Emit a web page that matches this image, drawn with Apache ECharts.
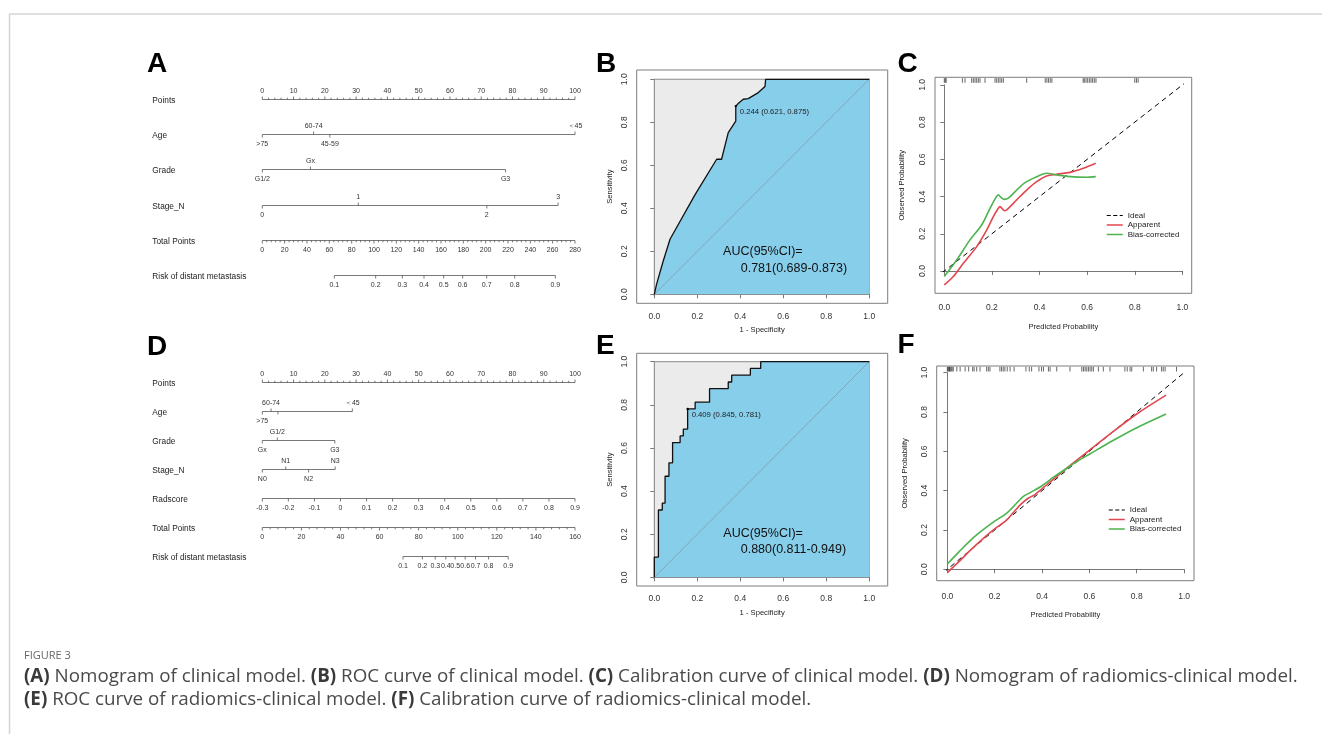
<!DOCTYPE html>
<html><head><meta charset="utf-8">
<script src="https://cdn.jsdelivr.net/npm/echarts@6.0.0/dist/echarts.min.js"></script>
<style>html,body{margin:0;padding:0;background:#fff}#chart{width:1322px;height:734px}</style>
</head><body><div id="chart"></div>
<script>
// ================= DATA =================
// Nomogram A (clinical model)
const pointsTicks = [0,10,20,30,40,50,60,70,80,90,100];
const pointsMinorStep = 2;
const nomA_ageLevels = ['>75','60-74','45-59','＜45'];
const nomA_agePoints = [0,16.4,21.6,100];
const nomA_gradeLevels = ['G1/2','Gx','G3'];
const nomA_gradePoints = [0,15.4,77.8];
const nomA_stageLevels = ['0','1','2','3'];
const nomA_stagePoints = [0,30.7,71.8,94.6];
const nomA_totalTicks = [0,20,40,60,80,100,120,140,160,180,200,220,240,260,280];
const nomA_totalMinorStep = 4;
const nomA_riskLabels = ['0.1','0.2','0.3','0.4','0.5','0.6','0.7','0.8','0.9'];
const nomA_riskTotal = [64.5,101.5,125.4,144.8,162.4,179.4,200.9,226.0,262.4];

// Nomogram D (radiomics-clinical model)
const nomD_ageLevels = ['>75','60-74','45-59','＜45'];
const nomD_agePoints = [0,2.8,5.0,28.8];
const nomD_gradeLevels = ['Gx','G1/2','G3'];
const nomD_gradePoints = [0,4.8,23.2];
const nomD_stageLevels = ['N0','N1','N2','N3'];
const nomD_stagePoints = [0,7.5,14.8,23.3];
const nomD_radTicks = [-0.3,-0.2,-0.1,0,0.1,0.2,0.3,0.4,0.5,0.6,0.7,0.8,0.9];
const nomD_totalTicks = [0,20,40,60,80,100,120,140,160];
const nomD_totalMinorStep = 4;
const nomD_riskLabels = ['0.1','0.2','0.3','0.4','0.5','0.6','0.7','0.8','0.9'];
const nomD_riskTotal = [72.0,81.9,88.5,93.9,98.7,103.8,109.1,115.8,125.8];

// ROC B
const rocB_fpr = [0,0.01,0.04,0.073,0.189,0.29,0.313,0.344,0.379,0.379,0.394,0.414,0.437,0.484,0.515,0.518,0.518,1];
const rocB_tpr = [0,0.045,0.15,0.256,0.462,0.628,0.628,0.752,0.805,0.875,0.891,0.907,0.91,0.938,0.966,0.966,1,1];
const rocB_cut = [0.379,0.875];
const rocB_cutLabel = '0.244 (0.621, 0.875)';
const rocB_auc = ['AUC(95%CI)=','0.781(0.689-0.873)'];

// ROC E
const rocE_fpr = [0,0,0.019,0.019,0.037,0.037,0.05,0.05,0.068,0.068,0.085,0.085,0.12,0.12,0.135,0.135,0.155,0.155,0.19,0.19,0.257,0.257,0.344,0.344,0.36,0.36,0.447,0.447,0.495,0.495,1];
const rocE_tpr = [0,0.094,0.094,0.3125,0.3125,0.344,0.344,0.469,0.469,0.531,0.531,0.625,0.625,0.656,0.656,0.6875,0.6875,0.781,0.781,0.8125,0.8125,0.875,0.875,0.906,0.906,0.9375,0.9375,0.969,0.969,1,1];
const rocE_cut = [0.155,0.781];
const rocE_cutLabel = '0.409 (0.845, 0.781)';
const rocE_auc = ['AUC(95%CI)=','0.880(0.811-0.949)'];

// Calibration C
const calC_appX = [0,0.038,0.08,0.136,0.178,0.206,0.227,0.234,0.252,0.262,0.304,0.346,0.388,0.43,0.472,0.528,0.584,0.636];
const calC_appY = [-0.075,-0.03,0.041,0.131,0.22,0.292,0.337,0.346,0.324,0.328,0.382,0.435,0.48,0.511,0.52,0.53,0.552,0.579];
const calC_biasX = [0,0.052,0.108,0.157,0.192,0.217,0.227,0.238,0.252,0.269,0.304,0.339,0.388,0.43,0.472,0.528,0.598,0.636];
const calC_biasY = [-0.03,0.059,0.167,0.247,0.337,0.396,0.409,0.396,0.385,0.391,0.435,0.475,0.507,0.525,0.516,0.507,0.504,0.507];
const calC_rug = [0,0.004,0.008,0.076,0.087,0.115,0.122,0.129,0.136,0.143,0.15,0.171,0.213,0.22,0.227,0.234,0.241,0.248,0.346,0.424,0.431,0.438,0.445,0.452,0.583,0.588,0.595,0.602,0.609,0.616,0.623,0.63,0.637,0.8,0.807,0.814];

// Calibration F
const calF_appX = [0,0.05,0.1,0.15,0.2,0.25,0.28,0.31,0.34,0.37,0.42,0.5,0.6,0.7,0.8,0.924];
const calF_appY = [-0.017,0.04,0.1,0.155,0.205,0.25,0.29,0.33,0.36,0.38,0.43,0.51,0.605,0.7,0.79,0.886];
const calF_biasX = [0,0.05,0.1,0.15,0.2,0.25,0.28,0.32,0.35,0.4,0.45,0.5,0.55,0.6,0.7,0.8,0.924];
const calF_biasY = [0.027,0.09,0.15,0.2,0.245,0.285,0.32,0.37,0.39,0.425,0.47,0.51,0.55,0.585,0.655,0.72,0.79];
const calF_rug = [0,0.003,0.006,0.009,0.012,0.016,0.02,0.025,0.04,0.054,0.075,0.09,0.107,0.113,0.124,0.138,0.166,0.173,0.18,0.222,0.229,0.236,0.243,0.253,0.265,0.282,0.332,0.346,0.356,0.387,0.398,0.406,0.427,0.434,0.462,0.518,0.568,0.575,0.582,0.589,0.596,0.603,0.61,0.617,0.638,0.659,0.687,0.75,0.76,0.772,0.779,0.828,0.863,0.87,0.884,0.905,0.912,0.92,0.968];

const legendNames = ['Ideal','Apparent','Bias-corrected'];
const panelLetters = ['A','B','C','D','E','F'];
const captionTitle = 'FIGURE 3';
const captionLine1 = '{b|(A)} Nomogram of clinical model. {b|(B)} ROC curve of clinical model. {b|(C)} Calibration curve of clinical model. {b|(D)} Nomogram of radiomics-clinical model.';
const captionLine2 = '{b|(E)} ROC curve of radiomics-clinical model. {b|(F)} Calibration curve of radiomics-clinical model.';

// ================= STYLE / LAYOUT =================
const FONT = '"Liberation Sans", Arial, sans-serif';
const CAPFONT = '"Open Sans", sans-serif';
const TICKFONT = '7px ' + FONT;
const ROWFONT = '8.3px ' + FONT;
const LINE = '#555';
const RED = '#E2474F', GREEN = '#4CB34E';
const PX_PER_PT = 312.7 / 100;

const mctx = document.createElement('canvas').getContext('2d');
function textW(t, font){ mctx.font = font; return mctx.measureText(t).width; }

function axisRow(name, values, labels, toPts, side, minorStep) {
  const marks = values.map((v,i)=>({p:toPts(v), label:labels[i], side, major:true}));
  if (minorStep) {
    const last = values[values.length-1];
    for (let k=1; values[0]+k*minorStep < last - 1e-9; k++) {
      const v = values[0]+k*minorStep;
      if (!values.some(u=>Math.abs(u-v)<1e-9)) marks.push({p:toPts(v), label:'', side, major:false});
    }
  }
  return {name, line:[toPts(values[0]), toPts(values[values.length-1])], marks};
}
function catRow(name, levels, pts) {
  const order = levels.map((l,i)=>i).sort((a,b)=>pts[a]-pts[b]);
  const lastRight = {above:-Infinity, below:-Infinity};
  const marks = order.map((idx,k)=>{
    const side = k%2===0 ? 'below' : 'above';
    const p = pts[idx];
    const half = textW(levels[idx], TICKFONT)/2/PX_PER_PT;
    let label = levels[idx];
    if (p - half < lastRight[side] + 2/PX_PER_PT) label = ''; else lastRight[side] = p + half;
    return {p, label, side, major:true};
  });
  return {name, line:[pts[order[0]], pts[order[order.length-1]]], marks};
}

const totA = nomA_totalTicks[nomA_totalTicks.length-1];
const rowsA = [
  axisRow('Points', pointsTicks, pointsTicks.map(String), v=>v, 'above', pointsMinorStep),
  catRow('Age', nomA_ageLevels, nomA_agePoints),
  catRow('Grade', nomA_gradeLevels, nomA_gradePoints),
  catRow('Stage_N', nomA_stageLevels, nomA_stagePoints),
  axisRow('Total Points', nomA_totalTicks, nomA_totalTicks.map(String), v=>v*100/totA, 'below', nomA_totalMinorStep),
  axisRow('Risk of distant metastasis', nomA_riskTotal, nomA_riskLabels, v=>v*100/totA, 'below', 0)
];
const totD = nomD_totalTicks[nomD_totalTicks.length-1];
const r0 = nomD_radTicks[0], r1 = nomD_radTicks[nomD_radTicks.length-1];
const rowsD = [
  axisRow('Points', pointsTicks, pointsTicks.map(String), v=>v, 'above', pointsMinorStep),
  catRow('Age', nomD_ageLevels, nomD_agePoints),
  catRow('Grade', nomD_gradeLevels, nomD_gradePoints),
  catRow('Stage_N', nomD_stageLevels, nomD_stagePoints),
  axisRow('Radscore', nomD_radTicks, nomD_radTicks.map(String), v=>(v-r0)/(r1-r0)*100, 'below', 0),
  axisRow('Total Points', nomD_totalTicks, nomD_totalTicks.map(String), v=>v*100/totD, 'below', nomD_totalMinorStep),
  axisRow('Risk of distant metastasis', nomD_riskTotal, nomD_riskLabels, v=>v*100/totD, 'below', 0)
];

const grids=[], xAxes=[], yAxes=[], series=[];
function addGrid(g, xa, ya){ g.outerBoundsMode='none'; grids.push(g); const gi=grids.length-1; xa.gridIndex=gi; ya.gridIndex=gi; xAxes.push(xa); yAxes.push(ya); return gi; }
const hiddenAxis = (min,max,inv)=>({type:'value', min, max, inverse:!!inv, show:false});

function nomogram(rows, top, height){
  const ai = addGrid({left:262.3, top, width:312.7, height, show:false}, hiddenAxis(0,100), hiddenAxis(0,rows.length-1,true));
  series.push({
    type:'custom', xAxisIndex:ai, yAxisIndex:ai, silent:true, clip:false, animation:false,
    data: rows.map((r,i)=>[0,i]), encode:{x:0,y:1},
    renderItem:(params, api)=>{
      const i = api.value(1), row = rows[i];
      const y = Math.round(api.coord([0,i])[1]) + 0.5;
      const ch = [];
      const xa = api.coord([row.line[0],i])[0], xb = api.coord([row.line[1],i])[0];
      ch.push({type:'line', shape:{x1:xa,y1:y,x2:xb,y2:y}, style:{stroke:LINE, lineWidth:0.8}});
      row.marks.forEach(m=>{
        const x = api.coord([m.p,i])[0];
        const dir = m.side==='above' ? -1 : 1;
        const len = m.major ? 3 : 1.8;
        ch.push({type:'line', shape:{x1:x,y1:y,x2:x,y2:y+dir*len}, style:{stroke:LINE, lineWidth:0.8}});
        if (m.label) ch.push({type:'text', style:{text:m.label, x, y:y+(dir<0?-8:9.5), align:'center', verticalAlign:'middle', font:TICKFONT, fill:'#333'}});
      });
      ch.push({type:'text', style:{text:row.name, x:params.coordSys.x-110, y:y+1, align:'left', verticalAlign:'middle', font:ROWFONT, fill:'#222'}});
      return {type:'group', children:ch};
    }
  });
}
nomogram(rowsA, 99, 176);
nomogram(rowsD, 381.7, 174);

// R-style panel: frame grid (axis titles) + inner 0..1 grid (axis lines, ticks, labels)
function panel(f, xr, yr, xName, yName, xGap, yGap, xMargin, yMargin){
  const fw = f.r-f.l, fh = f.b-f.t;
  addGrid({left:f.l, top:f.t, width:fw, height:fh, show:true, borderColor:'#7d7d7d', borderWidth:1, backgroundColor:'rgba(0,0,0,0)'},
    {type:'value', min:xr[0], max:xr[1], axisLine:{show:false}, axisTick:{show:false}, axisLabel:{show:false}, splitLine:{show:false},
     name:xName, nameLocation:'middle', nameGap:xGap, nameTextStyle:{fontFamily:FONT, fontSize:7.6, color:'#222'}},
    {type:'value', min:yr[0], max:yr[1], axisLine:{show:false}, axisTick:{show:false}, axisLabel:{show:false}, splitLine:{show:false},
     name:yName, nameLocation:'middle', nameGap:yGap, nameRotate:90, nameTextStyle:{fontFamily:FONT, fontSize:7.6, color:'#222'}});
  const x0 = f.l + (0-xr[0])/(xr[1]-xr[0])*fw, x1 = f.l + (1-xr[0])/(xr[1]-xr[0])*fw;
  const y1 = f.t + (yr[1]-1)/(yr[1]-yr[0])*fh, y0 = f.t + (yr[1]-0)/(yr[1]-yr[0])*fh;
  const axStyle = {lineStyle:{color:'#555', width:0.8}};
  const lab = (m, rot)=>({show:true, margin:m, rotate:rot, fontFamily:FONT, fontSize:8.5, color:'#333', formatter:v=>v.toFixed(1), showMinLabel:true, showMaxLabel:true, hideOverlap:false});
  return addGrid({left:x0, top:y1, width:x1-x0, height:y0-y1, show:false},
    {type:'value', min:0, max:1, interval:0.2, position:'bottom', offset:f.b-y0, axisLine:{show:true, ...axStyle}, axisTick:{show:true, length:4, ...axStyle}, axisLabel:lab(xMargin,0), splitLine:{show:false}},
    {type:'value', min:0, max:1, interval:0.2, position:'left', offset:x0-f.l, axisLine:{show:true, ...axStyle}, axisTick:{show:true, length:4, ...axStyle}, axisLabel:lab(yMargin,90), splitLine:{show:false}});
}

function rocPanel(f, xr, yr, fpr, tpr, cut, cutLabel, auc, aucPos){
  const ai = panel(f, xr, yr, '1 - Specificity', 'Sensitivity', 23, 23, 8.5, 7.5);
  const zip = fpr.map((x,i)=>[x,tpr[i]]);
  const base = {xAxisIndex:ai, yAxisIndex:ai, silent:true, animation:false};
  series.push({...base, type:'line', data:[], z:1, markArea:{silent:true, itemStyle:{color:'#EBEBEB', borderWidth:0}, data:[[{coord:[0,0]},{coord:[1,1]}]]}});
  series.push({...base, type:'line', name:'roc-area', data:zip, symbol:'none', z:2, lineStyle:{width:0}, areaStyle:{color:'#87CEEB', opacity:1}});
  const lo = Math.max(xr[0],yr[0]), hi = Math.min(xr[1],yr[1]);
  series.push({...base, type:'line', data:[[lo,lo],[hi,hi]], symbol:'none', z:3, clip:false, lineStyle:{color:'#8494a4', width:0.7}});
  series.push({...base, type:'line', data:[], z:4, markArea:{silent:true, itemStyle:{color:'rgba(0,0,0,0)', borderColor:'#8a8a8a', borderWidth:1}, data:[[{coord:[0,0]},{coord:[1,1]}]]}});
  series.push({...base, type:'line', name:'roc', data:zip, symbol:'none', z:5, lineStyle:{color:'#111', width:1.3}});
  series.push({...base, type:'custom', z:6, clip:false, data:[cut], renderItem:(p,api)=>{
    const c = api.coord([api.value(0),api.value(1)]);
    return {type:'group', children:[
      {type:'circle', shape:{cx:c[0], cy:c[1], r:1.2}, style:{fill:'#000'}},
      {type:'text', style:{text:cutLabel, x:c[0]+4, y:c[1]+6, align:'left', verticalAlign:'middle', font:'7.7px '+FONT, fill:'#222'}}]};
  }});
  series.push({...base, type:'custom', z:6, clip:false, data:aucPos, renderItem:(p,api)=>{
    const c = api.coord([api.value(0),api.value(1)]);
    return {type:'text', style:{text:auc[p.dataIndex], x:c[0], y:c[1], align:'left', verticalAlign:'middle', font:'12.5px '+FONT, fill:'#111'}};
  }});
}
rocPanel({l:636.7,t:70,r:887.7,b:303.3}, [-0.082,1.086], [-0.042,1.043], rocB_fpr, rocB_tpr, rocB_cut, rocB_cutLabel, rocB_auc, [[0.32,0.197],[0.402,0.119]]);
rocPanel({l:636.7,t:353.3,r:887.7,b:586}, [-0.082,1.086], [-0.040,1.039], rocE_fpr, rocE_tpr, rocE_cut, rocE_cutLabel, rocE_auc, [[0.321,0.204],[0.402,0.127]]);

function calPanel(f, xr, yr, appX, appY, biasX, biasY, rug, xGap, yGap, xMargin){
  const ai = panel(f, xr, yr, 'Predicted Probability', 'Observed Probability', xGap, yGap, xMargin, 8);
  const base = {xAxisIndex:ai, yAxisIndex:ai, silent:true, animation:false, clip:false, symbol:'none', showSymbol:false};
  const lo = Math.max(xr[0],yr[0]), hi = Math.min(xr[1],yr[1]);
  series.push({...base, type:'line', name:'Ideal', data:[[lo,lo],[hi,hi]], z:3, itemStyle:{color:'#000'}, lineStyle:{color:'#000', width:1, type:[5,4]}});
  series.push({...base, type:'line', name:'Apparent', data:appX.map((x,i)=>[x,appY[i]]), smooth:0.3, z:4, itemStyle:{color:RED}, lineStyle:{color:RED, width:1.6}});
  series.push({...base, type:'line', name:'Bias-corrected', data:biasX.map((x,i)=>[x,biasY[i]]), smooth:0.3, z:5, itemStyle:{color:GREEN}, lineStyle:{color:GREEN, width:1.6}});
  series.push({xAxisIndex:ai, yAxisIndex:ai, type:'custom', silent:true, animation:false, clip:false, z:6, data:rug.map(v=>[v]), encode:{x:0},
    renderItem:(p,api)=>{
      const x = api.coord([api.value(0), 0])[0];
      return {type:'line', shape:{x1:x, y1:f.t+0.8, x2:x, y2:f.t+5.5}, style:{stroke:'rgba(0,0,0,0.75)', lineWidth:0.8}};
    }});
}
calPanel({l:935,t:77.3,r:1191.7,b:293.3}, [-0.039,1.039], [-0.12,1.041], calC_appX, calC_appY, calC_biasX, calC_biasY, calC_rug, 29.5, 29, 10);
calPanel({l:936.7,t:366,r:1194,b:580.7}, [-0.045,1.042], [-0.058,1.034], calF_appX, calF_appY, calF_biasX, calF_biasY, calF_rug, 30, 27.5, 11);

const legendData = [
  {name:legendNames[0], itemStyle:{opacity:0}, lineStyle:{color:'#000', width:1.2, type:[4,2.5]}},
  {name:legendNames[1], itemStyle:{opacity:0}, lineStyle:{color:RED, width:1.5}},
  {name:legendNames[2], itemStyle:{opacity:0}, lineStyle:{color:GREEN, width:1.5}}
];
const legendBase = {data:legendData, orient:'vertical', itemWidth:16, itemHeight:7, itemGap:1.5, padding:0, selectedMode:false,
  itemStyle:{opacity:0}, textStyle:{fontFamily:FONT, fontSize:8, color:'#222'}};

const letterPos = [[147,64.5],[596,64.5],[897.5,64.5],[147,347],[596,346],[897.5,345.5]];
const graphics = [
  {type:'line', shape:{x1:9, y1:14, x2:1322, y2:14}, style:{stroke:'#d4d4d4', lineWidth:1.5}, silent:true},
  {type:'line', shape:{x1:9.5, y1:14, x2:9.5, y2:734}, style:{stroke:'#d4d4d4', lineWidth:1.5}, silent:true},
  ...panelLetters.map((t,i)=>({type:'text', x:letterPos[i][0], y:letterPos[i][1], silent:true,
      style:{text:t, font:'bold 28px '+FONT, fill:'#000', align:'left', verticalAlign:'middle'}})),
  {type:'text', x:24, y:656, silent:true, style:{text:captionTitle, font:'11px '+CAPFONT, fill:'#666', verticalAlign:'middle'}},
  {type:'text', x:24, y:677, silent:true, style:{text:captionLine1, font:'18.8px '+CAPFONT, fill:'#4a4a4a', verticalAlign:'middle',
      rich:{b:{fontWeight:'bold', fontFamily:CAPFONT, fontSize:18.8, fill:'#3a3a3a'}}}},
  {type:'text', x:24, y:700, silent:true, style:{text:captionLine2, font:'18.8px '+CAPFONT, fill:'#4a4a4a', verticalAlign:'middle',
      rich:{b:{fontWeight:'bold', fontFamily:CAPFONT, fontSize:18.8, fill:'#3a3a3a'}}}}
];

const option = {
  animation:false,
  backgroundColor:'#fff',
  grid:grids, xAxis:xAxes, yAxis:yAxes, series,
  legend:[
    {...legendBase, left:1106, top:211.5},
    {...legendBase, left:1108, top:506}
  ],
  graphic:graphics
};
const chart = echarts.init(document.getElementById('chart'));
chart.setOption(option);
</script></body></html>
